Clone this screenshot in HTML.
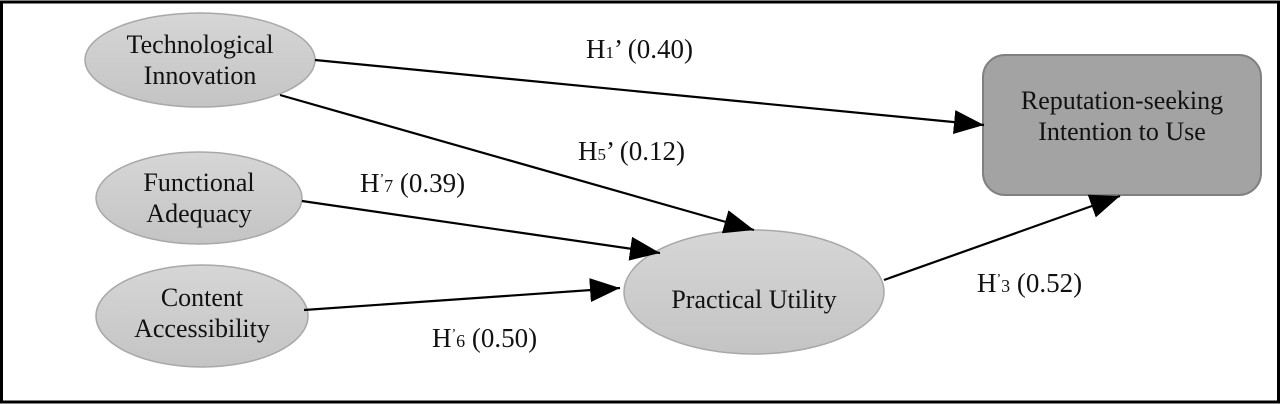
<!DOCTYPE html>
<html><head><meta charset="utf-8"><style>
html,body{margin:0;padding:0;background:#fff;}
svg{display:block;}
text{font-family:"Liberation Serif",serif;font-size:26px;fill:#111;}
.l{font-size:27px;}
</style></head><body>
<svg width="1280" height="404" viewBox="0 0 1280 404" xmlns="http://www.w3.org/2000/svg">
<defs>
<marker id="a" markerWidth="30" markerHeight="24" refX="30" refY="12" orient="auto" markerUnits="userSpaceOnUse">
<path d="M0,0 L30,12 L0,24 Z" fill="#000"/>
</marker>
<linearGradient id="g" x1="0" y1="0" x2="0" y2="1"><stop offset="0" stop-color="#d6d6d6"/><stop offset="1" stop-color="#c4c4c4"/></linearGradient>
</defs>
<rect x="1.5" y="2" width="1277" height="400" fill="#fff" stroke="#000" stroke-width="3"/>
<g fill="url(#g)" stroke="#a8a8a8" stroke-width="1.5">
<ellipse cx="200" cy="60" rx="115" ry="47"/>
<ellipse cx="199" cy="198" rx="103" ry="46"/>
<ellipse cx="202" cy="316" rx="106" ry="51"/>
<ellipse cx="754" cy="292" rx="130" ry="62"/>
<rect x="983" y="55" width="278" height="140" rx="22" fill="#a3a3a3" stroke="#808080" stroke-width="2"/>
</g>
<g stroke="#000" stroke-width="2.2" fill="none">
<line x1="315" y1="60" x2="984" y2="125" marker-end="url(#a)"/>
<line x1="280" y1="95" x2="754" y2="230" marker-end="url(#a)"/>
<line x1="302" y1="201" x2="660" y2="253" marker-end="url(#a)"/>
<line x1="304" y1="310" x2="620" y2="288" marker-end="url(#a)"/>
<line x1="884" y1="280" x2="1120" y2="196" marker-end="url(#a)"/>
</g>
<g text-anchor="middle">
<text x="200" y="53">Technological</text>
<text x="200" y="84">Innovation</text>
<text x="199" y="191">Functional</text>
<text x="199" y="222">Adequacy</text>
<text x="202" y="306">Content</text>
<text x="202" y="337">Accessibility</text>
<text x="754" y="308">Practical Utility</text>
<text x="1122" y="109">Reputation-seeking</text>
<text x="1122" y="140">Intention to Use</text>
</g>
<text class="l" x="586" y="58">H<tspan font-size="17">1</tspan>’ (0.40)</text>
<text class="l" x="578" y="160">H<tspan font-size="17">5</tspan>’ (0.12)</text>
<text class="l" x="360" y="192">H<tspan font-size="14" dy="-9">’</tspan><tspan font-size="18" dy="9">7</tspan> (0.39)</text>
<text class="l" x="432" y="347">H<tspan font-size="14" dy="-9">’</tspan><tspan font-size="18" dy="9">6</tspan> (0.50)</text>
<text class="l" x="977" y="292">H<tspan font-size="14" dy="-9">’</tspan><tspan font-size="18" dy="9">3</tspan> (0.52)</text>
</svg>
</body></html>
